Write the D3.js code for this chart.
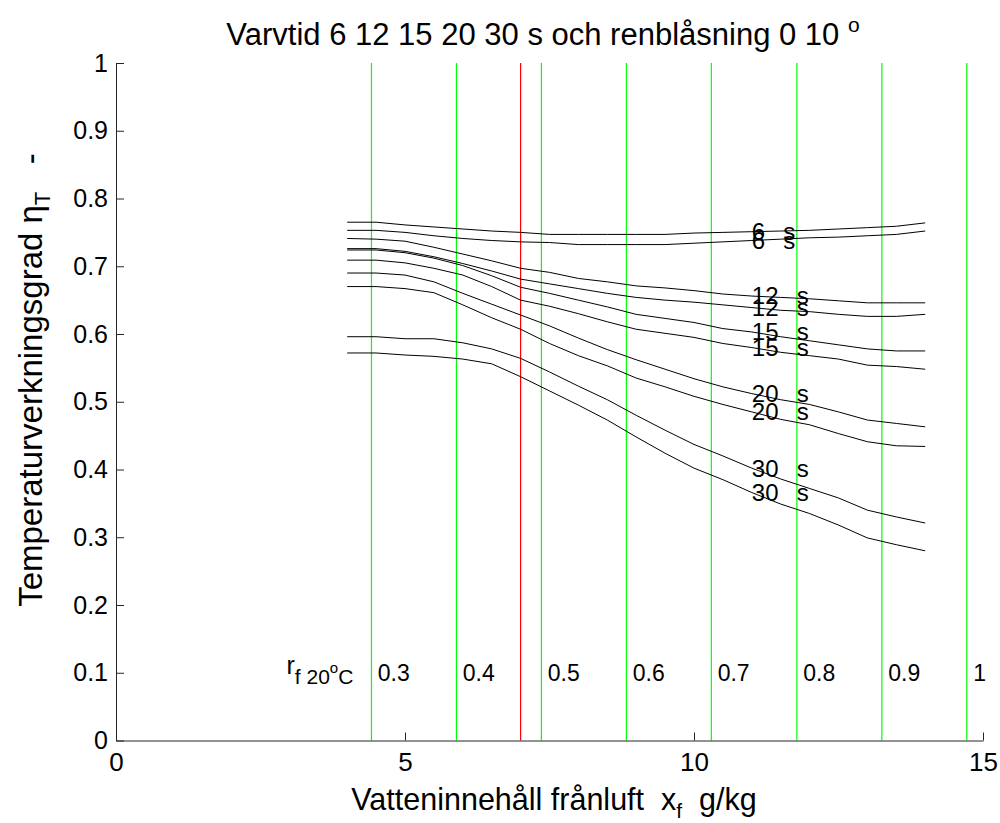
<!DOCTYPE html>
<html>
<head>
<meta charset="utf-8">
<script src="https://cdn.jsdelivr.net/npm/d3@7"></script>
<style>
  body { margin: 0; background: #fff; }
  text { font-family: "Liberation Sans", Arial, Helvetica, sans-serif; fill: #000; }
</style>
</head>
<body>
<svg id="chart" width="1000" height="823"></svg>
<script>
// Water content of exhaust air (g/kg) where each curve was evaluated
const xNodes = [4, 4.5, 5, 5.5, 6, 6.5, 7, 7.5, 8, 8.5, 9, 9.5, 10, 10.5, 11, 11.5, 12, 12.5, 13, 13.5, 14];

// Temperature efficiency, two curves per rotation time (purge 0 and 10 degrees)
const eta6a  = [0.765, 0.765, 0.761, 0.758, 0.755, 0.752, 0.750, 0.747, 0.747, 0.747, 0.747, 0.747, 0.749, 0.750, 0.751, 0.752, 0.753, 0.755, 0.757, 0.759, 0.764];
const eta6b  = [0.753, 0.753, 0.750, 0.745, 0.741, 0.738, 0.736, 0.735, 0.732, 0.732, 0.732, 0.732, 0.734, 0.736, 0.738, 0.740, 0.742, 0.743, 0.745, 0.747, 0.752];
const eta12a = [0.741, 0.740, 0.737, 0.728, 0.718, 0.708, 0.697, 0.691, 0.682, 0.677, 0.671, 0.668, 0.664, 0.659, 0.656, 0.654, 0.652, 0.649, 0.646, 0.646, 0.646];
const eta12b = [0.726, 0.726, 0.722, 0.714, 0.704, 0.693, 0.681, 0.674, 0.667, 0.660, 0.654, 0.650, 0.647, 0.643, 0.639, 0.635, 0.633, 0.629, 0.626, 0.626, 0.629];
const eta15a = [0.724, 0.724, 0.720, 0.712, 0.701, 0.686, 0.669, 0.660, 0.650, 0.640, 0.629, 0.623, 0.617, 0.608, 0.603, 0.596, 0.590, 0.584, 0.578, 0.575, 0.575];
const eta15b = [0.709, 0.709, 0.705, 0.697, 0.687, 0.670, 0.650, 0.641, 0.630, 0.618, 0.607, 0.601, 0.595, 0.586, 0.580, 0.573, 0.568, 0.563, 0.554, 0.552, 0.548];
const eta20a = [0.690, 0.690, 0.687, 0.677, 0.660, 0.644, 0.628, 0.612, 0.594, 0.577, 0.562, 0.548, 0.534, 0.522, 0.512, 0.503, 0.496, 0.485, 0.473, 0.468, 0.463];
const eta20b = [0.670, 0.670, 0.667, 0.661, 0.643, 0.624, 0.607, 0.586, 0.568, 0.553, 0.535, 0.522, 0.508, 0.496, 0.485, 0.474, 0.466, 0.453, 0.441, 0.435, 0.434];
const eta30a = [0.596, 0.596, 0.593, 0.593, 0.587, 0.578, 0.564, 0.544, 0.523, 0.503, 0.480, 0.458, 0.437, 0.420, 0.402, 0.386, 0.372, 0.358, 0.340, 0.330, 0.321];
const eta30b = [0.572, 0.572, 0.569, 0.567, 0.563, 0.556, 0.537, 0.516, 0.495, 0.473, 0.448, 0.424, 0.402, 0.385, 0.366, 0.349, 0.335, 0.318, 0.299, 0.289, 0.280];

const curves = [eta6a, eta6b, eta12a, eta12b, eta15a, eta15b, eta20a, eta20b, eta30a, eta30b];
const rotationTimes = ["6", "6", "12", "12", "15", "15", "20", "20", "30", "30"];
const labelX = 11;

// Relative humidity at 20 °C expressed as water content (g/kg)
const rhValues = ["0.3", "0.4", "0.5", "0.6", "0.7", "0.8", "0.9", "1"];
const rhX = [4.42, 5.89, 7.36, 8.83, 10.30, 11.78, 13.25, 14.72];
const designX = 7.0;

const xTicks = [0, 5, 10, 15];
const yTicks = [0, 0.1, 0.2, 0.3, 0.4, 0.5, 0.6, 0.7, 0.8, 0.9, 1];

const svg = d3.select("#chart");
const x = d3.scaleLinear().domain([0, 15]).range([116, 983]);
const y = d3.scaleLinear().domain([0, 1]).range([740.5, 63]);

// vertical humidity lines
svg.append("g").selectAll("line").data(rhX).join("line")
  .attr("x1", d => x(d)).attr("x2", d => x(d))
  .attr("y1", y(0)).attr("y2", y(1))
  .attr("stroke", "#00ff00").attr("stroke-width", 1.2);

svg.append("line")
  .attr("x1", x(designX)).attr("x2", x(designX))
  .attr("y1", y(0)).attr("y2", y(1))
  .attr("stroke", "#ff0000").attr("stroke-width", 1.2);

// axes (ticks point into the plot area)
const xAxis = svg.append("g").attr("transform", `translate(0,${y(0)})`)
  .call(d3.axisBottom(x).tickValues(xTicks).tickFormat(d3.format("d")).tickSizeInner(-8).tickSizeOuter(0).tickPadding(12));
const yAxis = svg.append("g").attr("transform", `translate(${x(0)},0)`)
  .call(d3.axisLeft(y).tickValues(yTicks).tickFormat(d => d === 0 || d === 1 ? String(d) : d3.format(".1f")(d)).tickSizeInner(-8).tickSizeOuter(0).tickPadding(8));
[xAxis, yAxis].forEach(g => {
  g.select(".domain").attr("stroke", "#262626");
  g.selectAll(".tick line").attr("stroke", "#262626");
  g.selectAll(".tick text").attr("fill", "#000");
});
yAxis.selectAll(".tick text").attr("font-size", 25).attr("font-family", "DejaVu Sans, Verdana, sans-serif");
xAxis.selectAll(".tick text").attr("font-size", 26).attr("font-family", "Liberation Sans, Arial, sans-serif");

// efficiency curves
const line = d3.line().x((d, i) => x(xNodes[i])).y(d => y(d));
svg.append("g").selectAll("path").data(curves).join("path")
  .attr("d", line)
  .attr("fill", "none").attr("stroke", "#000").attr("stroke-width", 1);

// curve labels at x = 11
const li = xNodes.indexOf(labelX);
svg.append("g").selectAll("text").data(curves).join("text")
  .attr("x", x(labelX)).attr("y", d => y(d[li]))
  .attr("dy", "0.35em")
  .attr("font-size", 24)
  .style("white-space", "pre")
  .text((d, i) => rotationTimes[i] + "  \u2009s");

// humidity labels along the bottom
svg.append("g").selectAll("text").data(rhValues).join("text")
  .attr("x", (d, i) => x(rhX[i] + 0.11)).attr("y", y(0.1))
  .attr("dy", "0.36em").attr("font-size", 23)
  .attr("font-family", "DejaVu Sans, Verdana, sans-serif")
  .text(d => d);

const rf = svg.append("text").attr("x", x(2.95)).attr("y", y(0.1) + 1).attr("font-size", 25);
rf.append("tspan").text("r");
rf.append("tspan").attr("font-size", 21).attr("dy", 10).text("f 20");
rf.append("tspan").attr("font-size", 15).attr("dy", -11).text("o");
rf.append("tspan").attr("font-size", 21).attr("dy", 11).text("C");

// title
const title = svg.append("text").attr("x", 543).attr("y", 45).attr("text-anchor", "middle").attr("font-size", 31);
title.append("tspan").text("Varvtid 6 12 15 20 30 s och renblåsning 0 10 ");
title.append("tspan").attr("font-size", 21).attr("dy", -13).text("o");

// axis titles
const xl = svg.append("text").attr("x", 554).attr("y", 810).attr("text-anchor", "middle").attr("font-size", 30.5).style("white-space", "pre");
xl.append("tspan").text("Vatteninnehåll frånluft  x");
xl.append("tspan").attr("font-size", 21).attr("dy", 8).text("f");
xl.append("tspan").attr("dy", -8).text("  g/kg");

const yl = svg.append("text").attr("transform", "translate(42,380) rotate(-90)").attr("text-anchor", "middle").attr("font-size", 33).style("white-space", "pre");
yl.append("tspan").text("Temperaturverkningsgrad η");
yl.append("tspan").attr("font-size", 22).attr("dy", 8).text("T");
yl.append("tspan").attr("dy", -8).text("   -");
</script>
</body>
</html>
